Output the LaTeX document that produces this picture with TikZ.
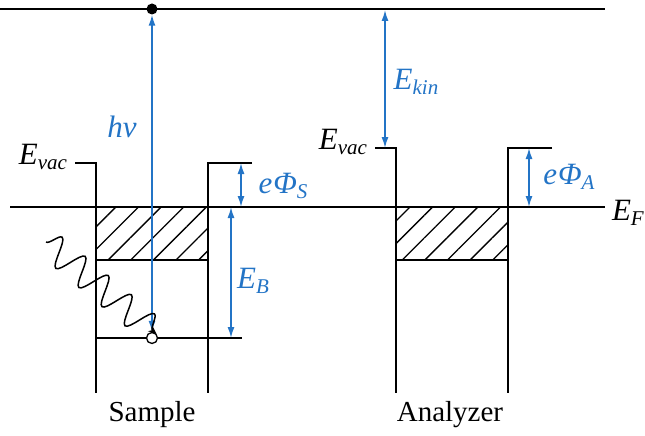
\documentclass[tikz,border=0pt]{standalone}
\usepackage{fontspec}
\setmainfont{Liberation Serif}
\usetikzlibrary{arrows.meta,patterns.meta,decorations.pathmorphing}
\definecolor{bandblue}{RGB}{35,116,198}
\newcommand{\lvl}[2]{\textit{#1}\raisebox{-0.4ex}{\fontsize{21}{21}\selectfont\textit{#2}}}

\begin{document}
\begin{tikzpicture}[
  x=1pt, y=-1pt,
  level/.style={line width=1.5pt},
  hatch/.style={pattern={Lines[angle=45,distance=16pt,line width=1.3pt]}},
  gap/.style={bandblue, line width=1.5pt, {Latex[length=11pt,width=7pt]}-{Latex[length=11pt,width=7pt]}},
  lab/.style={font=\fontsize{31}{33}\selectfont, inner sep=0pt},
  bluelab/.style={lab, text=bandblue}
]
  \useasboundingbox (0,0) rectangle (645,436);

  % levels across both sides
  \draw[level] (0,9) -- (605,9);
  \draw[level] (10,207) -- (605,207);
  \node[lab] (EF) at (628,213) {\lvl{E}{F}};

  % sample
  \draw[level] (75,163) -- (96,163) -- (96,393);
  \draw[level] (252,163) -- (208,163) -- (208,393);
  \draw[level, hatch] (96,207) rectangle (208,260);
  \draw[level] (96,338) -- (242,338);
  \node[lab] (vacS) at (43,157) {\lvl{E}{vac}};
  \node[font=\fontsize{29}{30}\selectfont] (sample) at (152,415) {Sample};

  % analyzer
  \draw[level] (375,148) -- (396,148) -- (396,393);
  \draw[level] (552,148) -- (508,148) -- (508,393);
  \draw[level, hatch] (396,207) rectangle (508,260);
  \node[lab] (vacA) at (343,142) {\lvl{E}{vac}};
  \node[font=\fontsize{29}{30}\selectfont] (analyzer) at (450,415) {Analyzer};

  % electron and hole
  \node[circle, fill, inner sep=0pt, minimum size=11pt] (electron) at (152,9) {};
  \node[circle, draw, fill=white, line width=1.3pt, inner sep=0pt, minimum size=11pt] (hole) at (152,338) {};
  \draw[gap] (hole) -- (electron);
  \node[bluelab] (hv) at (122,127) {\textit{hv}};

  % photon
  \coordinate (photon) at (46,242);
  \draw[line width=1.5pt, -{Stealth[length=8pt,width=7pt]},
    decorate, decoration={snake, amplitude=14pt, segment length=30pt, post length=3pt}]
    (photon) -- (hole.north east);

  % energy gaps
  \coordinate (phiS0) at (241,163); \coordinate (phiS1) at (241,207);
  \draw[gap] (phiS0) -- (phiS1);
  \node[bluelab] (phiS) at (283,186) {\textit{e\kern1ptΦ}\raisebox{-0.4ex}{\fontsize{21}{21}\selectfont\textit{S}}};

  \coordinate (eb0) at (231,207); \coordinate (eb1) at (231,338);
  \draw[gap] (eb0) -- (eb1);
  \node[bluelab] (EB) at (253,281) {\lvl{E}{B}};

  \coordinate (kin0) at (385,10); \coordinate (kin1) at (385,148);
  \draw[gap] (kin0) -- (kin1);
  \node[bluelab] (Ekin) at (416,82) {\lvl{E}{kin}};

  \coordinate (phiA0) at (529,148); \coordinate (phiA1) at (529,207);
  \draw[gap] (phiA0) -- (phiA1);
  \node[bluelab] (phiA) at (569,177) {\textit{e\kern1ptΦ}\raisebox{-0.4ex}{\fontsize{21}{21}\selectfont\textit{A}}};
\end{tikzpicture}
\end{document}
